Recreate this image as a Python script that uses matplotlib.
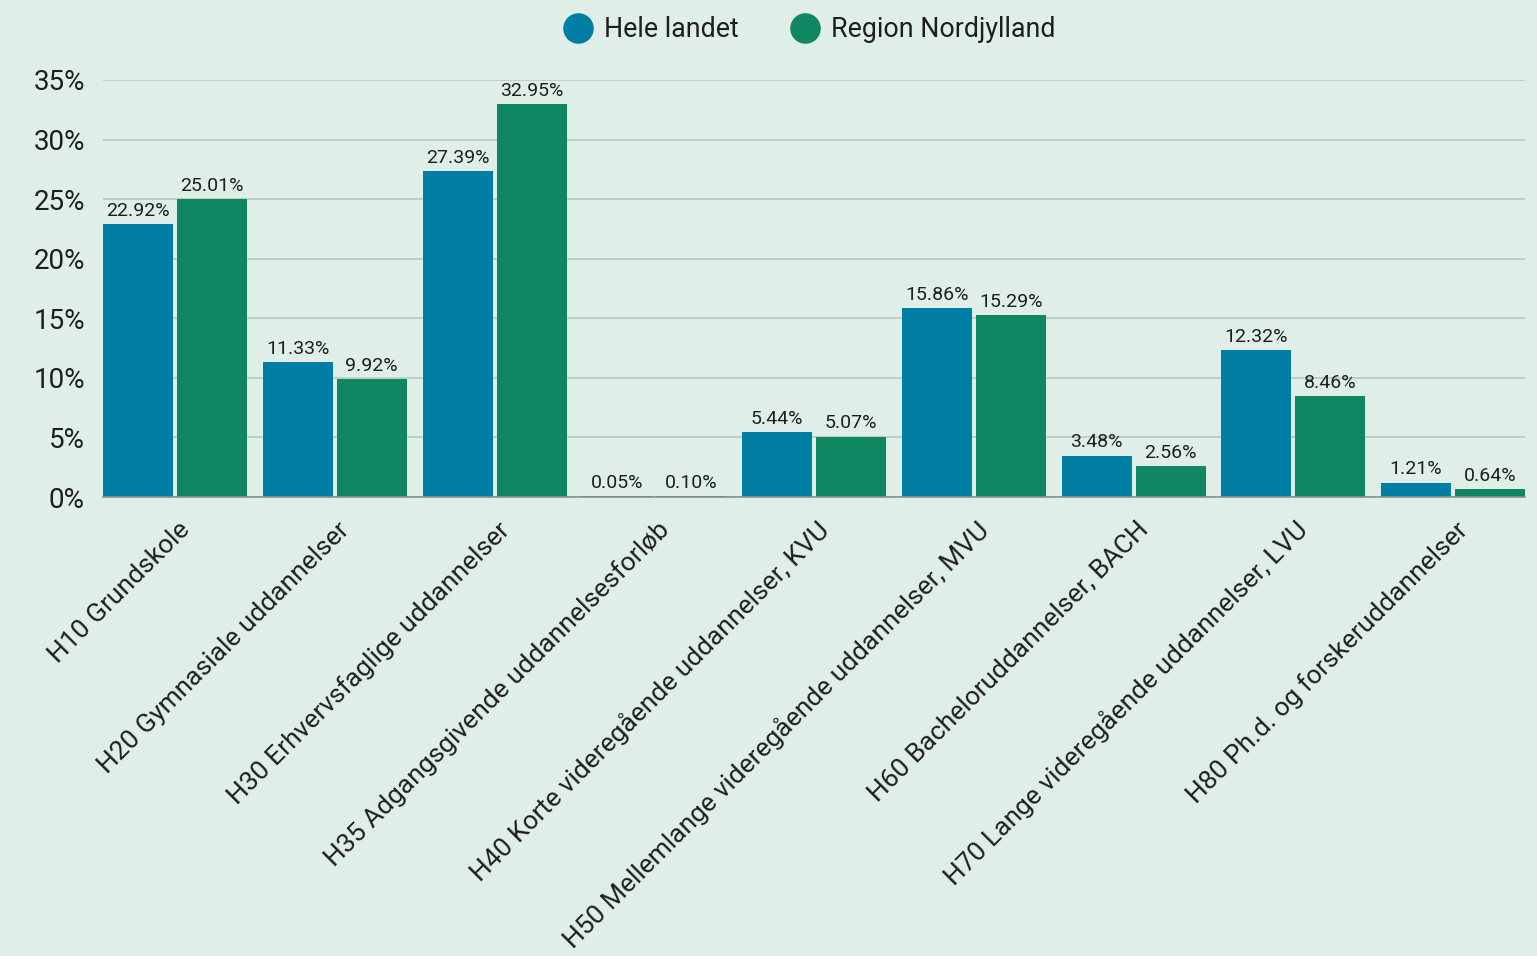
import matplotlib
matplotlib.use("Agg")
import matplotlib.pyplot as plt
import matplotlib.transforms as mtransforms
from matplotlib.lines import Line2D
import numpy as np

categories = [
    "H10 Grundskole",
    "H20 Gymnasiale uddannelser",
    "H30 Erhvervsfaglige uddannelser",
    "H35 Adgangsgivende uddannelsesforløb",
    "H40 Korte videregående uddannelser, KVU",
    "H50 Mellemlange videregående uddannelser, MVU",
    "H60 Bacheloruddannelser, BACH",
    "H70 Lange videregående uddannelser, LVU",
    "H80 Ph.d. og forskeruddannelser",
]
hele_landet = [22.92, 11.33, 27.39, 0.05, 5.44, 15.86, 3.48, 12.32, 1.21]
nordjylland = [25.01, 9.92, 32.95, 0.10, 5.07, 15.29, 2.56, 8.46, 0.64]
series_names = ["Hele landet", "Region Nordjylland"]
y_ticks = [0, 5, 10, 15, 20, 25, 30, 35]

BG = "#DFEFE7"
BLUE = "#007EA4"
GREEN = "#0F8763"
TEXT = "#1E1E1E"

plt.rcParams["font.family"] = ["Roboto", "DejaVu Sans"]

fig = plt.figure(figsize=(15.37, 9.56), dpi=100, facecolor=BG)
ax = fig.add_axes([103 / 1537, 459 / 956, (1525 - 103) / 1537, (876 - 459) / 956])
ax.set_facecolor(BG)

period = 159.75
bw = 70 / period
gap = 4 / period
x = np.arange(len(categories))
x1 = x - (bw + gap) / 2
x2 = x + (bw + gap) / 2

b1 = ax.bar(x1, hele_landet, width=bw, color=BLUE, zorder=3, label=series_names[0])
b2 = ax.bar(x2, nordjylland, width=bw, color=GREEN, zorder=3, label=series_names[1])

for xs, vals in ((x1, hele_landet), (x2, nordjylland)):
    for xi, v in zip(xs, vals):
        ax.annotate(f"{v:.2f}%", (xi, v), xytext=(0, 3), textcoords="offset points",
                    ha="center", va="bottom", fontsize=14, color=TEXT, zorder=4)

ax.set_xlim(-(bw + gap / 2), len(categories) - 1 + bw + gap / 2)
ax.set_ylim(0, 35)
ax.set_yticks(y_ticks)
ax.set_yticklabels([f"{t}%" for t in y_ticks], fontsize=20, color=TEXT)
ax.tick_params(axis="y", length=0, pad=13)
ax.grid(axis="y", color="#B8C9C0", linewidth=1.2, zorder=0)
for s in ["top", "right", "left"]:
    ax.spines[s].set_visible(False)
ax.spines["bottom"].set_color("#8A8F8C")
ax.spines["bottom"].set_linewidth(1.2)
ax.spines["bottom"].set_zorder(5)

ax.set_xticks(x)
ax.set_xticklabels(categories, rotation=45, ha="right", va="center",
                   rotation_mode="anchor", fontsize=19, color=TEXT)
ax.tick_params(axis="x", length=0, pad=0)
offset = mtransforms.ScaledTranslation(11 / 100, -29 / 100, fig.dpi_scale_trans)
for lab in ax.get_xticklabels():
    lab.set_transform(lab.get_transform() + offset)

h = [Line2D([0], [0], marker="o", linestyle="none", markersize=21, markerfacecolor=c,
            markeredgecolor=c) for c in (BLUE, GREEN)]
fig.legend(handles=h, labels=series_names, loc="upper center",
           bbox_to_anchor=(0.527, 1.008), ncol=2, frameon=False, fontsize=19.3,
           handlelength=1.0, columnspacing=2.0, handletextpad=0.45, labelcolor=TEXT)

fig.savefig("out.png", dpi=100, facecolor=BG)
